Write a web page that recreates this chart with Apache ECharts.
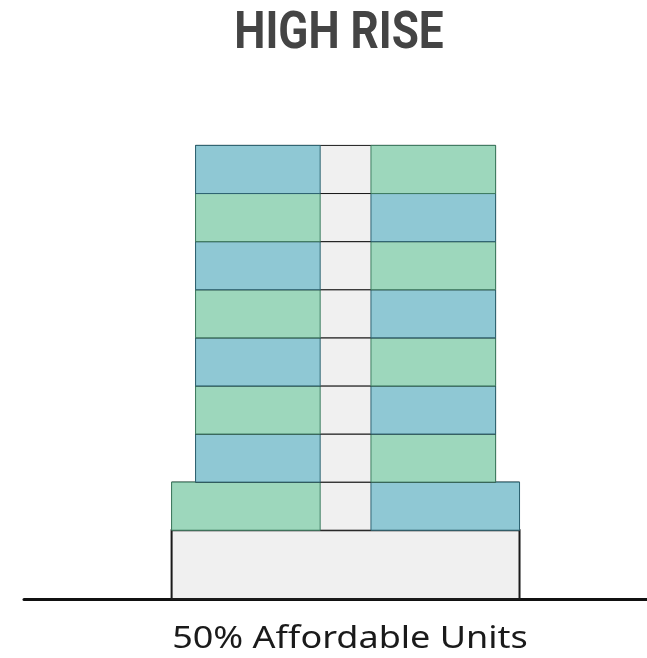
<!DOCTYPE html>
<html>
<head>
<meta charset="utf-8">
<script src="https://cdn.jsdelivr.net/npm/echarts@6/dist/echarts.min.js"></script>
<style>
  html, body { margin: 0; padding: 0; background: #fff; }
  #chart { width: 647px; height: 658px; }
</style>
</head>
<body>
<div id="chart"></div>
<script>
// building levels, bottom to top (height in floor units, half width in axis units)
const floors = ['Podium', 'Floor 1', 'Floor 2', 'Floor 3', 'Floor 4', 'Floor 5', 'Floor 6', 'Floor 7', 'Floor 8'];
const floorHeights = [1.43, 1, 1, 1, 1, 1, 1, 1, 1];
const floorHalfWidths = [36.3, 36.3, 31.3, 31.3, 31.3, 31.3, 31.3, 31.3, 31.3];
const corridorHalfWidth = 5.3;
// unit type on each side of the corridor
const leftUnits = [null, 'Affordable', 'Market', 'Affordable', 'Market', 'Affordable', 'Market', 'Affordable', 'Market'];
const rightUnits = [null, 'Market', 'Affordable', 'Market', 'Affordable', 'Market', 'Affordable', 'Market', 'Affordable'];
const titleText = 'HIGH RISE';
const labelText = '50% Affordable Units';

const unitFill = { Affordable: '#9dd7bc', Market: '#8fc8d4' };
const unitStroke = { Affordable: '#3f7d62', Market: '#2e6472' };

let bottom = 0;
const levelData = floors.map((name, i) => {
  const item = { name: name, value: [bottom, bottom + floorHeights[i], floorHalfWidths[i]] };
  bottom += floorHeights[i];
  return item;
});

function rectBetween(api, x0, x1, y0, y1) {
  const a = api.coord([x0, y1]);
  const b = api.coord([x1, y0]);
  return { x: a[0], y: a[1], width: b[0] - a[0], height: b[1] - a[1] };
}

function renderLevel(params, api) {
  const i = params.dataIndex;
  const b = api.value(0), t = api.value(1), hw = api.value(2);
  const children = [{
    type: 'rect',
    shape: rectBetween(api, -hw, hw, b, t),
    style: { fill: '#f0f0f0', stroke: '#1a1a1a', lineWidth: i === 0 ? 2 : 1 }
  }];
  if (leftUnits[i]) {
    children.push({
      type: 'rect',
      shape: rectBetween(api, -hw, -corridorHalfWidth, b, t),
      style: { fill: unitFill[leftUnits[i]], stroke: unitStroke[leftUnits[i]], lineWidth: 1 }
    });
  }
  if (rightUnits[i]) {
    children.push({
      type: 'rect',
      shape: rectBetween(api, corridorHalfWidth, hw, b, t),
      style: { fill: unitFill[rightUnits[i]], stroke: unitStroke[rightUnits[i]], lineWidth: 1 }
    });
  }
  return { type: 'group', children: children };
}

const chart = echarts.init(document.getElementById('chart'));
chart.setOption({
  animation: false,
  graphic: [{
    type: 'text',
    x: 339,
    y: 35.5,
    scaleX: 0.865,
    style: {
      text: titleText,
      align: 'center',
      verticalAlign: 'middle',
      fontFamily: 'Roboto',
      fontWeight: 'bold',
      fontSize: 51,
      fill: '#444'
    }
  }, {
    type: 'text',
    x: 350,
    y: 639,
    scaleX: 1.2,
    style: {
      text: labelText,
      align: 'center',
      verticalAlign: 'middle',
      fontFamily: '"Noto Sans"',
      fontWeight: 'normal',
      fontSize: 30,
      fill: '#1a1a1a'
    }
  }],
  grid: { left: 24, right: 0, top: 118, bottom: 59 },
  xAxis: {
    type: 'value',
    min: -67.1,
    max: 62.9,
    axisLine: { show: true, lineStyle: { color: '#111', width: 3 } },
    axisTick: { show: false },
    axisLabel: { show: false },
    splitLine: { show: false }
  },
  yAxis: {
    type: 'value',
    min: 0,
    max: 10,
    show: false
  },
  series: [{
    type: 'custom',
    clip: false,
    renderItem: renderLevel,
    encode: { x: 2, y: [0, 1] },
    data: levelData,
    z: 1
  }]
});
</script>
</body>
</html>
